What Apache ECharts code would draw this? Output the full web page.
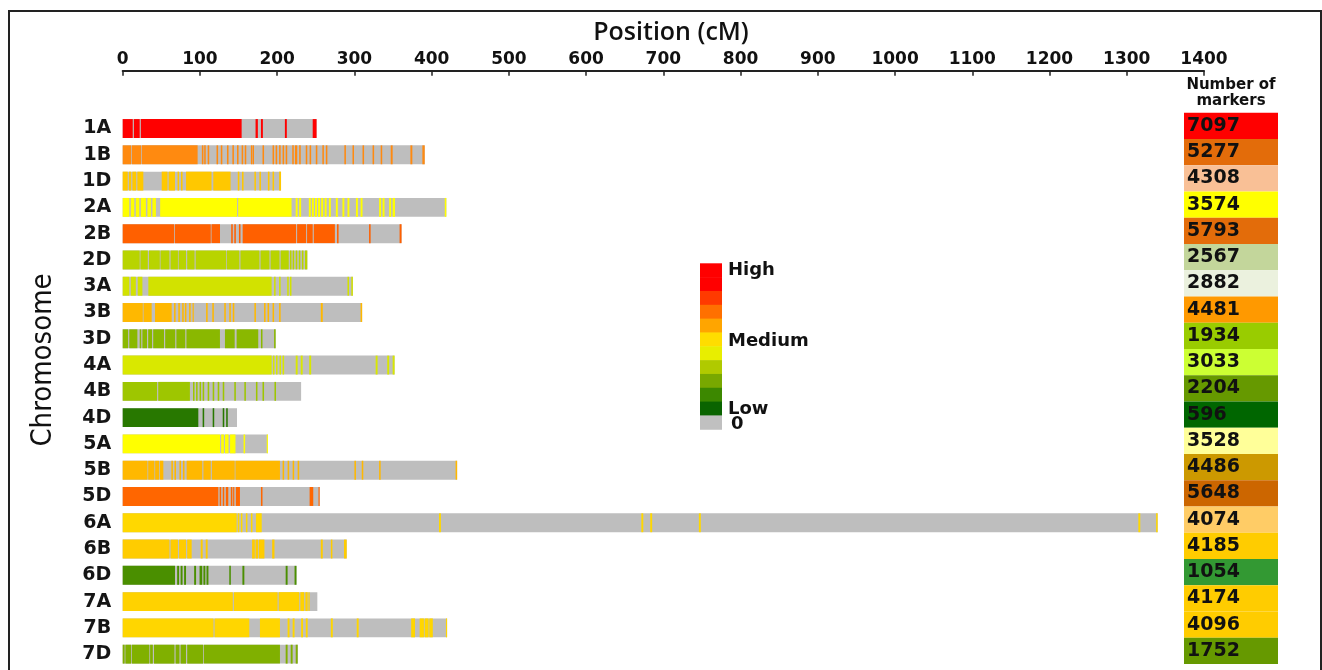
<!DOCTYPE html>
<html><head><meta charset="utf-8">
<script src="https://cdn.jsdelivr.net/npm/echarts@6/dist/echarts.min.js"></script>
<style>html,body{margin:0;padding:0;background:#fff}#c{width:1322px;height:670px}</style>
</head><body><div id="c"></div>
<script>
// ---------- data ----------
const chromosomes = ['1A','1B','1D','2A','2B','2D','3A','3B','3D','4A','4B','4D','5A','5B','5D','6A','6B','6D','7A','7B','7D'];
const lengths = [251,391,205,419,361,239,298,310,198,352,231,148,188,433,255,1340,290,225,252,420,227];
const barColors = ['#FF0000','#FF8A10','#FFC800','#FFFF00','#FF6000','#B8D400','#D2E200','#FFB800','#8AB800','#D9E800','#9EC600','#287800','#FFFF00','#FFB800','#FF6600','#FFD800','#FFCC00','#4A8F00','#FFD200','#FFD600','#80B000'];
const markerCounts = [7097,5277,4308,3574,5793,2567,2882,4481,1934,3033,2204,596,3528,4486,5648,4074,4185,1054,4174,4096,1752];
const countColors = ['#FF0000','#E36C0A','#F9C096','#FFFF00','#E36C0A','#C3D69B','#EBF1DE','#FF9900','#99CC00','#CCFF33','#669900','#006600','#FFFF99','#CC9900','#CC6600','#FFCC66','#FFCC00','#339933','#FFCC00','#FFCC00','#669900'];
const xMin = 0, xMax = 1400, xStep = 100;
const legendColors = ['#FF0000','#FF0000','#FF3A00','#FF7000','#FFA500','#FFDD00','#E8EE00','#B0CA00','#78A800','#3C8800','#0A6400','#C0C0C0'];
const legendLabels = ['High','Medium','Low','0'];

// marker-dense intervals [start cM, end cM] per chromosome
const seg1A = [[0,13],[14.5,22],[23.5,154],[172,175],[179,181.5],[210,212.5],[246,251]];
const seg1B = [[0,11],[12,24],[25,97],[102.5,104.5],[105.5,107.5],[110,112],[121.5,123.5],[127,129],[135,137],[142,144],[148,150],[154,156],[158,160],[166,168],[168.5,170],[181,183],[194,196],[198,200],[202.5,204.5],[207,209],[211,213],[219.5,221.5],[223,226],[228.5,230.5],[237,239],[242,244],[250,252],[258.5,260.5],[263,265],[287,289],[297.5,299.5],[310.5,312.5],[323.5,325.5],[334,336],[347,349.5],[372.5,375],[388,391]];
const seg1D = [[0,6.5],[8,11],[12.5,17.5],[19,26.7],[50.5,58],[59.5,67.7],[71,73],[75.5,77.5],[82,115],[117.3,139.7],[149,151],[154.5,156.5],[170.5,172.5],[177,179],[188,190],[194,196],[202.5,205]];
const seg2A = [[0,8.5],[10.5,15],[17,21.5],[23.5,30],[32,36.5],[38.5,43],[48.5,148],[149.5,218.6],[224,226.5],[228.5,231],[241,243.5],[245,247.5],[249,251.5],[253,255.5],[257,259.5],[261.5,264],[267,269.5],[276,278.5],[284.5,287],[291,293.5],[302,304.5],[308,310.5],[332,334.5],[336.5,339],[345,347.5],[349.5,352.5],[417,419]];
const seg2B = [[0,66.5],[67.5,114],[115,126],[140.5,142.5],[144.5,146.5],[150.5,152.5],[155.3,224.5],[225.8,237.5],[238.7,246],[247.4,274.7],[277.5,279.5],[319,321],[358.5,361]];
const seg2D = [[0,22],[23,32.5],[34,48],[49,60.5],[62,71.5],[72.5,82],[83.5,93],[94.5,134],[135,151],[152.5,177],[178.5,190],[191.5,203],[204.5,215],[216.5,218.5],[220,222],[224,226],[228,230],[232,234],[236,239]];
const seg3A = [[0,8.5],[10.5,17],[19.5,25.5],[33.2,192.8],[196,198],[202.5,204.5],[213,215],[216.5,218.5],[291,293],[296,298]];
const seg3B = [[0,26],[27,37.5],[41.8,63.4],[66.5,68.5],[72,74],[77,79],[80.5,82.5],[86,88],[90.5,92],[108,110],[116,118],[131.5,133.5],[138,140],[142.5,144.5],[170.5,172.5],[183,185],[187.5,189.5],[194,196],[202.5,204.5],[256.5,259],[308,310]];
const seg3D = [[0,7],[8.5,19],[22,24],[25.5,31.5],[33,38],[39.5,53.5],[55,68],[69.5,81],[82.5,125.9],[132.4,145],[147.5,175.5],[179,181],[196,198]];
const seg4A = [[0,192.8],[194.5,196.5],[198.5,200.5],[203,205],[207,209],[224,226.5],[230.5,233],[241.5,244],[327.5,330],[342.5,345],[349.5,352]];
const seg4B = [[0,44.5],[46,87],[91,93],[95,97],[99.5,101.5],[103.5,105.5],[110,112],[116.5,118.5],[123,125],[129.5,131.5],[144.5,146.5],[157.5,159.5],[172.5,174.5],[181,183],[196.5,198.5]];
const seg4D = [[0,97.9],[103.5,105.5],[116.5,118.5],[129.5,131.5],[134,136]];
const seg5A = [[0,126],[127.5,131],[132.5,137],[139,146],[156.5,158.5],[186.5,188]];
const seg5B = [[0,32],[33,41],[42,47],[48,52.6],[63,65],[67,69],[73.5,75.5],[78,80],[82.8,103],[104.5,114],[115.5,145],[146,203.6],[207,209],[213.5,215.5],[220,222],[226.5,228.5],[300,302],[309.5,311.5],[332,334],[431,433]];
const seg5D = [[0,123.8],[125.5,127.5],[129.5,131.5],[133.5,136.7],[140,142],[143,144.5],[146.5,151.8],[179,181],[242,246.7],[253.5,255]];
const seg6A = [[0,147.5],[149,151],[153,155],[159.5,161.5],[166,168],[172.5,180],[409.5,412],[671.5,674],[683,685.5],[746,748.5],[1315,1317.5],[1338,1340]];
const seg6B = [[0,60.5],[62,71.5],[73,82],[83.5,89.3],[101,103.5],[107.5,110],[167.5,171],[172,175.5],[176.5,183.5],[193.5,196.5],[256.5,259],[269.5,271.5],[286.5,290]];
const seg6D = [[0,67.7],[70.5,73],[75,77.5],[79.5,82],[92.5,95],[99.5,103],[104.5,107],[108.5,111],[138,140],[155,157.5],[211,213.5],[222.5,225]];
const seg7A = [[0,142.5],[144,200.5],[202,228.5],[230,235],[236.5,239.5],[240.5,242]];
const seg7B = [[0,117.5],[119,163.9],[177.7,203.6],[213.5,216],[220,222.5],[231,233.5],[237,239.5],[269.5,272],[303,305.5],[373.5,378.5],[384.5,390],[391,396],[397,401.5],[418.5,420]];
const seg7D = [[0,2.5],[3.5,11],[12,34.5],[35.5,39],[40.5,67],[68.5,73.5],[75,82],[83.5,104],[105,203.6],[211,213.5],[217.5,220],[224,226.5]];
const segments = [seg1A,seg1B,seg1D,seg2A,seg2B,seg2D,seg3A,seg3B,seg3D,seg4A,seg4B,seg4D,seg5A,seg5B,seg5D,seg6A,seg6B,seg6D,seg7A,seg7B,seg7D];
const gray = '#BEBEBE';

// ---------- build ----------
const segData = [];
lengths.forEach((len, i) => segData.push({value: [i, 0, len], itemStyle: {color: gray}}));
segments.forEach((segs, i) => segs.forEach(s => segData.push({value: [i, s[0], s[1]], itemStyle: {color: barColors[i]}})));

const chart = echarts.init(document.getElementById('c'), null, {renderer: 'canvas'});
const boldFont = '"DejaVu Sans", sans-serif';

const graphics = [
  {type: 'rect', shape: {x: 9, y: 11, width: 1312, height: 720}, style: {fill: 'none', stroke: '#222', lineWidth: 2}, silent: true},
  {type: 'text', x: 671, y: 33, style: {text: 'Position (cM)', font: '600 25px "Open Sans", "DejaVu Sans", sans-serif', fill: '#111', textAlign: 'center', textVerticalAlign: 'middle'}},
  {type: 'text', x: 43, y: 360, rotation: Math.PI / 2, style: {text: 'Chromosome', font: '29px "Liberation Sans Narrow", "DejaVu Sans Condensed", sans-serif', fill: '#111', textAlign: 'center', textVerticalAlign: 'middle'}},
  {type: 'text', x: 1231, y: 93, style: {text: 'Number of\nmarkers', font: 'bold 15px "DejaVu Sans", sans-serif', fill: '#111', textAlign: 'center', textVerticalAlign: 'middle', lineHeight: 16}}
];
const legUnit = 13.83, legX = 700, legY = 263.3;
legendColors.forEach((c, k) => graphics.push({type: 'rect', shape: {x: legX, y: legY + k * legUnit, width: 22, height: legUnit + 0.5}, style: {fill: c}}));
const legPos = [[728, 270.7], [728, 341.7], [728, 409.5], [731, 424]];
legendLabels.forEach((t, k) => graphics.push({type: 'text', x: legPos[k][0], y: legPos[k][1], style: {text: t, font: 'bold 18px "DejaVu Sans", sans-serif', fill: '#111', textAlign: 'left', textVerticalAlign: 'middle'}}));

chart.setOption({
  animation: false,
  backgroundColor: '#fff',
  grid: [
    {left: 122.7, right: 118, top: 115.4, height: 551.9},
    {left: 1184, width: 94, top: 112.7, height: 551.3}
  ],
  xAxis: [
    {type: 'value', gridIndex: 0, position: 'top', offset: 44.7, min: xMin, max: xMax, interval: xStep,
     axisLine: {show: true, lineStyle: {color: '#222', width: 2}},
     axisTick: {show: true, inside: true, length: 5, lineStyle: {color: '#222', width: 1.5}},
     axisLabel: {margin: 3, color: '#111', fontFamily: boldFont, fontWeight: 'bold', fontSize: 17, formatter: v => String(v)},
     splitLine: {show: false}},
    {type: 'value', gridIndex: 1, min: 0, max: 1, show: false}
  ],
  yAxis: [
    {type: 'category', gridIndex: 0, data: chromosomes, inverse: true,
     axisLine: {show: false}, axisTick: {show: false},
     axisLabel: {margin: 11.5, color: '#151515', fontFamily: boldFont, fontWeight: 'bold', fontSize: 19}},
    {type: 'category', gridIndex: 1, data: chromosomes, inverse: true, show: false}
  ],
  series: [
    {type: 'custom', xAxisIndex: 0, yAxisIndex: 0, encode: {x: [1, 2], y: 0}, data: segData,
     renderItem: function (params, api) {
       const y = api.value(0);
       const p0 = api.coord([api.value(1), y]);
       const p1 = api.coord([api.value(2), y]);
       const h = api.size([0, 1])[1] * 0.72;
       return {type: 'rect', shape: {x: p0[0], y: p0[1] - h / 2, width: Math.max(p1[0] - p0[0], 1), height: h}, style: {fill: api.visual('color')}};
     }},
    {type: 'bar', xAxisIndex: 1, yAxisIndex: 1, barWidth: '100%',
     data: markerCounts.map((v, i) => ({value: 1, itemStyle: {color: countColors[i]}})),
     label: {show: true, position: 'insideLeft', distance: 3, color: '#111', fontFamily: boldFont, fontWeight: 'bold', fontSize: 19,
             formatter: p => String(markerCounts[p.dataIndex])}}
  ],
  graphic: graphics
});
</script></body></html>
